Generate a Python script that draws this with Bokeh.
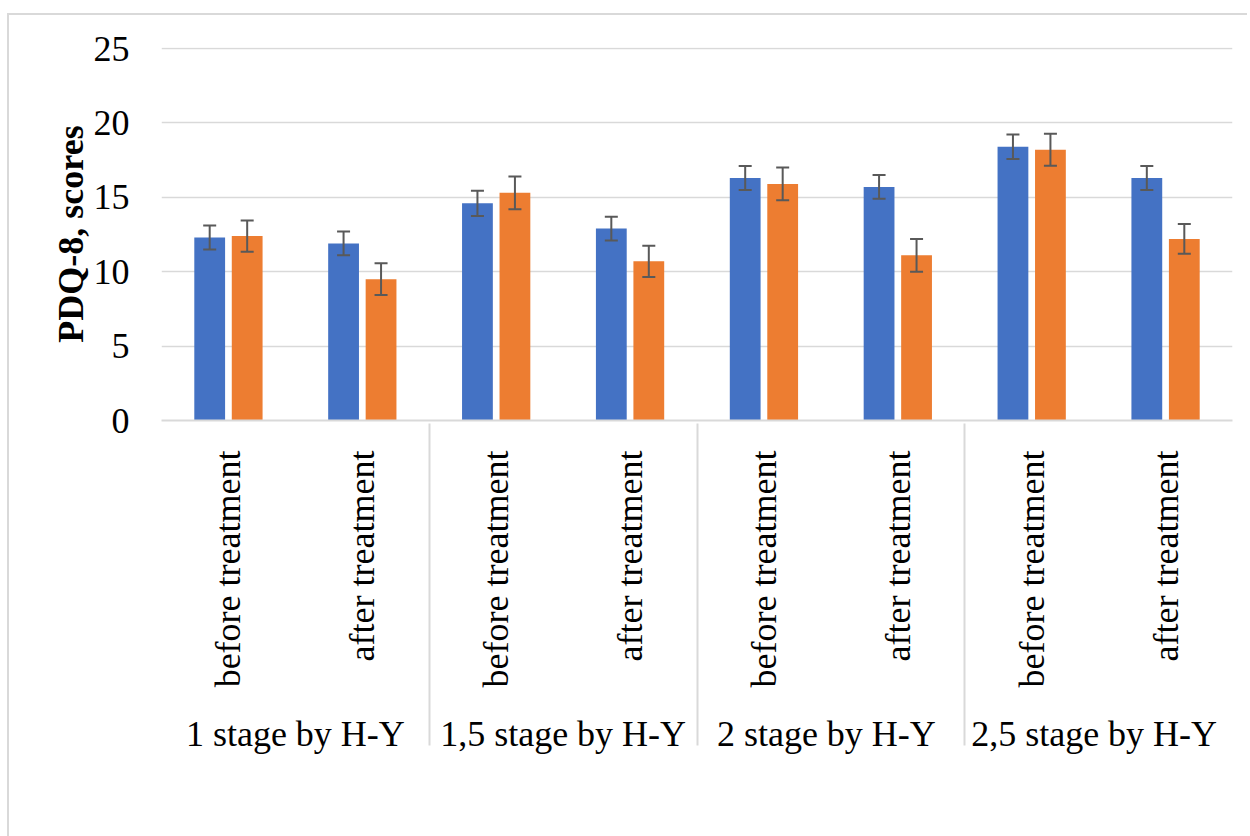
import math
from bokeh.plotting import figure
from bokeh.models import (FactorRange, ColumnDataSource, Whisker, TeeHead, Legend,
                          LegendItem, Range1d)
from bokeh.transform import dodge
from bokeh.embed import file_html
from bokeh.resources import INLINE

# ---- data ----
groups = ["1 stage by H-Y", "1,5 stage by H-Y", "2  stage by H-Y", "2,5  stage by H-Y"]
phases = ["before treatment", "after treatment"]
series_names = ["incompleted rehab program", "completed rehab program"]
incompleted = [12.3, 11.9, 14.6, 12.9, 16.3, 15.7, 18.4, 16.3]
incompleted_err = [0.8, 0.8, 0.85, 0.8, 0.8, 0.8, 0.83, 0.8]
completed = [12.4, 9.5, 15.3, 10.7, 15.9, 11.1, 18.2, 12.2]
completed_err = [1.05, 1.07, 1.1, 1.05, 1.1, 1.1, 1.07, 1.0]
y_ticks = [0, 5, 10, 15, 20, 25]

FONT = "Liberation Serif"
BLUE = "#4472C4"
ORANGE = "#ED7D31"
GRID = "#d9d9d9"
ERR = "#595959"

factors = [(g, ph) for g in groups for ph in phases]
src = ColumnDataSource(dict(
    x=factors,
    a=incompleted,
    a_lo=[v - e for v, e in zip(incompleted, incompleted_err)],
    a_hi=[v + e for v, e in zip(incompleted, incompleted_err)],
    b=completed,
    b_lo=[v - e for v, e in zip(completed, completed_err)],
    b_hi=[v + e for v, e in zip(completed, completed_err)],
))

x_range = FactorRange(*factors, group_padding=0, factor_padding=0, range_padding=0)

p = figure(x_range=x_range, y_range=Range1d(0, 25.07),
           frame_width=1071, frame_height=373,
           output_backend="svg", toolbar_location=None,
           min_border_left=152, min_border_right=15, min_border_top=32,
           min_border_bottom=0,
           styles={"margin-left": "7px", "margin-top": "13px",
                   "border-left": "2px solid #d9d9d9",
                   "border-top": "2px solid #d9d9d9"})
p.outline_line_color = None
p.background_fill_color = "white"
p.border_fill_color = "white"

OFF = 0.14
BW = 0.23
r1 = p.vbar(x=dodge("x", -OFF, range=p.x_range), top="a", width=BW, source=src,
            fill_color=BLUE, line_color=None)
r2 = p.vbar(x=dodge("x", OFF, range=p.x_range), top="b", width=BW, source=src,
            fill_color=ORANGE, line_color=None)

for off, lo, hi in [(-OFF, "a_lo", "a_hi"), (OFF, "b_lo", "b_hi")]:
    w = Whisker(base=dodge("x", off, range=p.x_range), lower=lo, upper=hi, source=src,
                line_color=ERR, line_width=2, level="overlay",
                upper_head=TeeHead(size=13, line_color=ERR, line_width=2),
                lower_head=TeeHead(size=13, line_color=ERR, line_width=2))
    p.add_layout(w)

# y axis
p.yaxis.ticker = y_ticks
p.yaxis.axis_line_color = None
p.yaxis.major_tick_line_color = None
p.yaxis.minor_tick_line_color = None
p.yaxis.major_label_text_font = FONT
p.yaxis.major_label_text_font_size = "36px"
p.yaxis.major_label_text_color = "black"
p.yaxis.major_label_standoff = 26
p.yaxis.axis_label = "PDQ-8, scores"
p.yaxis.axis_label_text_font = FONT
p.yaxis.axis_label_text_font_size = "36px"
p.yaxis.axis_label_text_font_style = "bold"
p.yaxis.axis_label_text_color = "black"
p.yaxis.axis_label_standoff = 0

# x axis (categorical, two levels)
xa = p.xaxis[0]
xa.axis_line_color = GRID
xa.axis_line_width = 2
xa.major_tick_line_color = None
xa.minor_tick_line_color = None
xa.major_label_orientation = math.pi / 2
xa.major_label_text_font = FONT
xa.major_label_text_font_size = "36px"
xa.major_label_text_color = "black"
xa.major_label_standoff = 24
xa.group_text_font = FONT
xa.group_text_font_size = "36px"
xa.group_text_color = "black"
xa.group_text_font_style = "normal"
xa.separator_line_color = GRID
xa.separator_line_width = 2

p.xgrid.grid_line_color = None
p.ygrid.grid_line_color = GRID
p.ygrid.grid_line_width = 1.5

legend = Legend(items=[LegendItem(label=series_names[0], renderers=[r1]),
                       LegendItem(label=series_names[1], renderers=[r2])],
                orientation="horizontal", location="top_left")
legend.label_text_font = FONT
legend.label_text_font_size = "36px"
legend.label_text_color = "black"
legend.glyph_width = 18
legend.glyph_height = 18
legend.label_standoff = 9
legend.spacing = 69
legend.padding = 0
legend.margin = 0
legend.border_line_color = None
legend.background_fill_alpha = 0
p.add_layout(legend, "below")

open("out.html", "w").write(file_html(p, INLINE))
